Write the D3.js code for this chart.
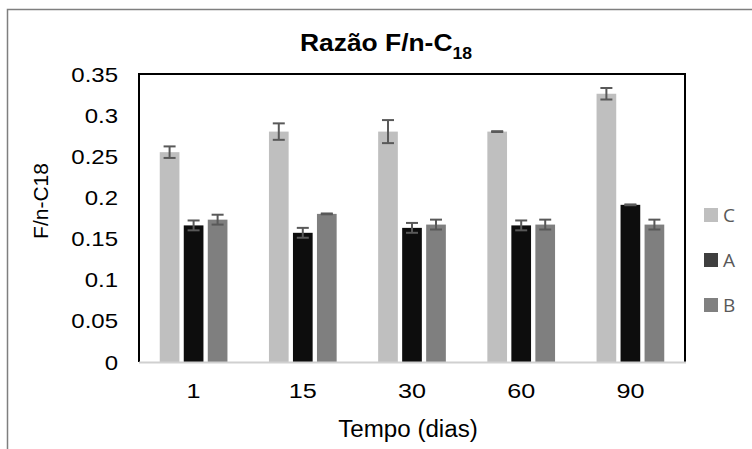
<!DOCTYPE html>
<html><head><meta charset="utf-8">
<script src="https://cdn.jsdelivr.net/npm/d3@7/dist/d3.min.js"></script>
<style>body{margin:0;background:#fff}svg{display:block}</style>
</head><body>
<script>
const categories = ["1","15","30","60","90"];
const series = ["C","A","B"];
const valuesC = [0.255, 0.280, 0.280, 0.280, 0.326];
const valuesA = [0.166, 0.157, 0.163, 0.166, 0.191];
const valuesB = [0.173, 0.180, 0.167, 0.167, 0.167];
const errC = [0.007, 0.010, 0.014, 0.0005, 0.007];
const errA = [0.006, 0.006, 0.006, 0.006, 0.0005];
const errB = [0.006, 0.0005, 0.006, 0.006, 0.006];
const yTicks = [0, 0.05, 0.1, 0.15, 0.2, 0.25, 0.3, 0.35];
const yTickLabels = ["0","0.05","0.1","0.15","0.2","0.25","0.3","0.35"];
const seriesColors = {C:"#bfbfbf", A:"#0d0d0d", B:"#7f7f7f"};
const legendColors = {C:"#bfbfbf", A:"#3f3f3f", B:"#808080"};

const W = 752, H = 449;
const L = 139, R = 685, T = 74, Bt = 362;
const font = "'Liberation Sans', Arial, sans-serif";

const svg = d3.select("body").append("svg").attr("width", W).attr("height", H);

// outer border (cropped chart)
svg.append("path").attr("d", `M7.5,${H} L7.5,9.5 L${W},9.5`)
  .attr("fill","none").attr("stroke","#7f7f7f").attr("stroke-width",1.5);

const x0 = d3.scaleBand().domain(categories).range([L, R]).paddingInner(0.38).paddingOuter(0.19);
const x1 = d3.scaleBand().domain(series).range([0, x0.bandwidth()]).paddingInner(0.18);
const y = d3.scaleLinear().domain([0, 0.35]).range([Bt, T]);

const data = {C: valuesC, A: valuesA, B: valuesB};
const errs = {C: errC, A: errA, B: errB};

const rows = [];
series.forEach(s => categories.forEach((c, i) => rows.push({s, c, v: data[s][i], e: errs[s][i]})));

// bars
svg.append("g").selectAll("rect").data(rows).join("rect")
  .attr("x", d => x0(d.c) + x1(d.s))
  .attr("y", d => y(d.v))
  .attr("width", x1.bandwidth())
  .attr("height", d => y(0) - y(d.v))
  .attr("fill", d => seriesColors[d.s]);

// error bars
const eg = svg.append("g").attr("stroke","#595959").attr("stroke-width",2).attr("fill","none");
rows.forEach(d => {
  const cx = x0(d.c) + x1(d.s) + x1.bandwidth()/2;
  const y1 = y(d.v + d.e), y2 = y(d.v - d.e);
  eg.append("line").attr("x1",cx).attr("x2",cx).attr("y1",y1).attr("y2",y2);
  eg.append("line").attr("x1",cx-6).attr("x2",cx+6).attr("y1",y1).attr("y2",y1);
  eg.append("line").attr("x1",cx-6).attr("x2",cx+6).attr("y1",y2).attr("y2",y2);
});

// plot frame: black top/left/right, gray bottom axis
svg.append("path").attr("d", `M${L},${Bt} L${L},${T} L${R},${T} L${R},${Bt}`)
  .attr("fill","none").attr("stroke","#000").attr("stroke-width",2);
svg.append("line").attr("x1",L).attr("x2",R+1).attr("y1",Bt+0.5).attr("y2",Bt+0.5)
  .attr("stroke","#d0d0d0").attr("stroke-width",2);

// y tick labels
svg.append("g").selectAll("text").data(yTicks).join("text")
  .attr("transform", d => `translate(118,${y(d)+7.5}) scale(1.2,1)`)
  .attr("text-anchor","end").attr("font-family",font).attr("font-size",20).attr("fill","#000")
  .text((d,i) => yTickLabels[i]);

// x tick labels
svg.append("g").selectAll("text").data(categories).join("text")
  .attr("transform", d => `translate(${x0(d)+x0.bandwidth()/2},398) scale(1.2,1)`)
  .attr("text-anchor","middle").attr("font-family",font).attr("font-size",21).attr("fill","#000")
  .text(d => d);

// x axis title
svg.append("text").attr("transform", `translate(408,437) scale(1.05,1)`)
  .attr("text-anchor","middle").attr("font-family",font).attr("font-size",23).attr("fill","#000")
  .text("Tempo (dias)");

// y axis title
svg.append("text").attr("transform", `translate(48,201) rotate(-90)`)
  .attr("text-anchor","middle").attr("font-family",font).attr("font-size",21).attr("fill","#000")
  .text("F/n-C18");

// title
const title = svg.append("text").attr("transform", `translate(386,51) scale(1.1,1)`)
  .attr("text-anchor","middle").attr("font-family",font).attr("font-weight","bold")
  .attr("font-size",24).attr("fill","#000");
title.append("tspan").text("Razão F/n-C");
title.append("tspan").attr("font-size",16).attr("dy",8).text("18");

// legend
const lg = svg.append("g");
series.forEach((s, i) => {
  const yy = 208 + i*45;
  lg.append("rect").attr("x",704).attr("y",yy).attr("width",14).attr("height",14).attr("fill",legendColors[s]);
  lg.append("text").attr("x",723).attr("y",yy+14).attr("font-family","'Open Sans', sans-serif")
    .attr("font-size",19).attr("fill","#595959").text(s);
});
</script>
</body></html>
